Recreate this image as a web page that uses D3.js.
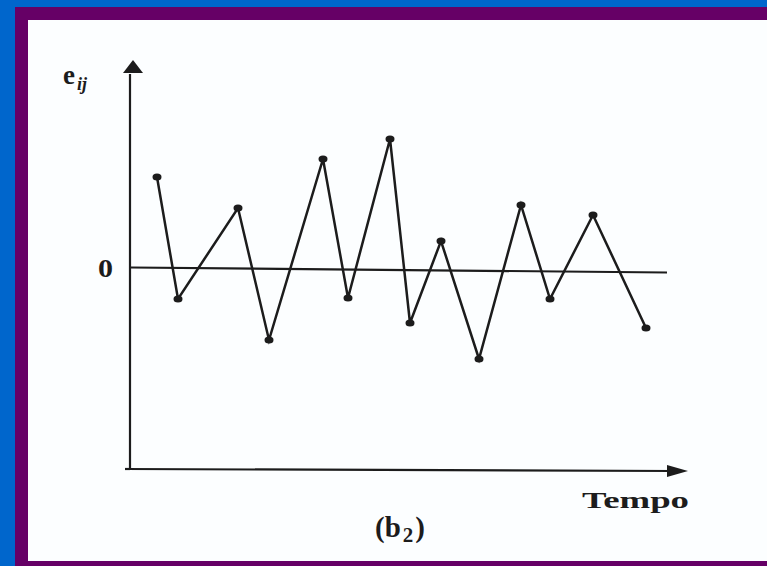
<!DOCTYPE html>
<html>
<head>
<meta charset="utf-8">
<script src="https://cdn.jsdelivr.net/npm/d3@7/dist/d3.min.js"></script>
<style>
html,body{margin:0;padding:0;background:#0066cc;}
svg{display:block;}
</style>
</head>
<body>
<script>
// Data: time positions and residuals e_ij
const times = [1.6, 2.65, 5.65, 7.2, 9.9, 11.15, 13.25, 14.25, 15.8, 17.7, 19.8, 21.25, 23.4, 26.05];
const residuals = [9.2, -3.0, 6.1, -7.1, 11.0, -2.9, 13.0, -5.4, 2.8, -9.0, 6.4, -3.0, 5.4, -5.9];
const yLabel = "e";
const ySub = "ij";
const xLabel = "Tempo";
const caption = "b";
const captionSub = "2";
const zeroLabel = "0";

const W = 767, H = 566;
const svg = d3.select("body").append("svg").attr("width", W).attr("height", H);

// frame
svg.append("rect").attr("x",0).attr("y",0).attr("width",W).attr("height",H).attr("fill","#0066cc");
svg.append("rect").attr("x",15).attr("y",7).attr("width",W-15).attr("height",H-7).attr("fill","#660066");
svg.append("rect").attr("x",28).attr("y",20).attr("width",W-28).attr("height",541).attr("fill","#fcfeff");

const x = d3.scaleLinear().domain([0, 28]).range([125, 685]);
const y = d3.scaleLinear().domain([-20, 20.9]).range([469, 60]);

const ink = "#1c1c1c";

// axes
svg.append("line").attr("x1", x(0)+5).attr("x2", x(0)+5).attr("y1", y(-20)).attr("y2", y(19.5))
  .attr("stroke", ink).attr("stroke-width", 2.2);
svg.append("line").attr("x1", x(0)).attr("x2", x(0)+5).attr("y1", y(-20)).attr("y2", y(-20))
  .attr("stroke", ink).attr("stroke-width", 2.2);
svg.append("line").attr("x1", x(0)).attr("x2", x(27.5)).attr("y1", y(-20)).attr("y2", y(-20.2))
  .attr("stroke", ink).attr("stroke-width", 2.2);
// arrow heads
svg.append("path")
  .attr("d", `M${x(0)+8},${y(20.9)} L${x(0)-2},${y(19.6)} L${x(0)+18},${y(19.6)} Z`)
  .attr("fill", ink);
svg.append("path")
  .attr("d", `M${x(28.15)},${y(-20.2)} L${x(27.1)},${y(-19.6)} L${x(27.1)},${y(-20.8)} Z`)
  .attr("fill", ink);

// zero line
svg.append("line").attr("x1", x(0.3)).attr("x2", x(27.1)).attr("y1", y(0.15)).attr("y2", y(-0.35))
  .attr("stroke", ink).attr("stroke-width", 2.2);

// series
const pts = times.map((t,i)=>[t, residuals[i]]);
svg.append("path").datum(pts)
  .attr("d", d3.line().x(d=>x(d[0])).y(d=>y(d[1])))
  .attr("fill","none").attr("stroke", ink).attr("stroke-width", 2.5).attr("stroke-linejoin","miter");
svg.selectAll("ellipse.pt").data(pts).enter().append("ellipse")
  .attr("cx", d=>x(d[0])).attr("cy", d=>y(d[1])).attr("rx", 4.5).attr("ry", 3.6).attr("fill", ink);

const font = "'Liberation Serif','DejaVu Serif',serif";
// y label
const yl = svg.append("text").attr("x", 63).attr("y", 84).attr("font-family", font)
  .attr("font-weight","bold").attr("font-size", 27).attr("fill", ink);
yl.append("tspan").text(yLabel);
yl.append("tspan").attr("dy", 6).attr("dx", 2).attr("font-size", 18).attr("font-style","italic").text(ySub);

svg.append("text").attr("x", 98).attr("y", 277).attr("font-family", font)
  .attr("font-weight","bold").attr("font-size", 25).attr("fill", ink)
  .attr("textLength", 15).attr("lengthAdjust","spacingAndGlyphs").text(zeroLabel);

svg.append("text").attr("x", 582).attr("y", 508).attr("font-family", font)
  .attr("font-weight","bold").attr("font-size", 24).attr("fill", ink)
  .attr("textLength", 107).attr("lengthAdjust","spacingAndGlyphs").text(xLabel);

const cp = svg.append("text").attr("x", 375).attr("y", 537).attr("font-family", font)
  .attr("font-weight","bold").attr("font-size", 29).attr("fill", ink);
cp.append("tspan").text("(" + caption);
cp.append("tspan").attr("dy", 5).attr("dx", 2).attr("font-size", 21).text(captionSub);
cp.append("tspan").attr("dy", -5).attr("dx", 2).text(")");
</script>
</body>
</html>
